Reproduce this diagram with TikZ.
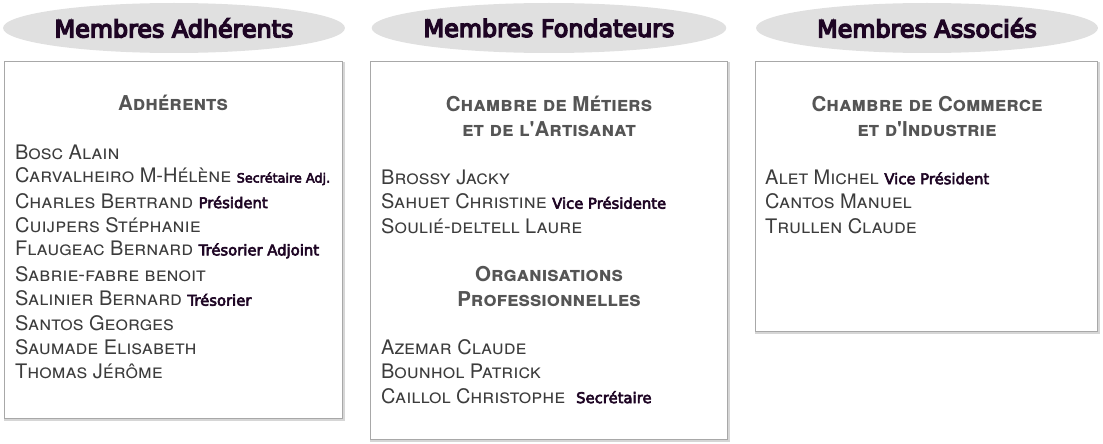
\documentclass[tikz,border=0pt]{standalone}
\usepackage{fontspec}
\newfontfamily\rolefont[BoldFont={DejaVu Sans}, BoldFeatures={FakeBold=4}]{DejaVu Sans}
\newfontfamily\titlefont[BoldFont={DejaVu Sans}, BoldFeatures={FakeBold=6}]{DejaVu Sans}
\newfontfamily\namefont{TeX Gyre Heros}
\usetikzlibrary{shapes.geometric}
\definecolor{ovalgray}{HTML}{E0E0E0}
\definecolor{titlepurple}{HTML}{1E0524}
\definecolor{namegray}{HTML}{3C3C3C}
\definecolor{headgray}{HTML}{555555}
\definecolor{framegray}{HTML}{A8A8A8}
\definecolor{shadegray}{HTML}{D6D6D6}
\newcommand{\role}[2][14.8]{{\rolefont\upshape\bfseries\fontsize{#1}{#1}\selectfont\color{titlepurple}#2}}

\begin{document}
\begin{tikzpicture}[x=1pt,y=-1pt,
  oval/.style={ellipse, fill=ovalgray, minimum width=342pt, minimum height=50pt,
    inner sep=0pt, font=\titlefont\bfseries\fontsize{23.8}{23.8}\selectfont, text=titlepurple},
  panel/.style={draw=framegray, line width=1pt, fill=white},
  heading/.style={font=\namefont\bfseries\scshape\fontsize{20.5}{20.5}\selectfont,
    text=headgray, inner sep=0pt},
  member/.style={anchor=west, font=\namefont\scshape\fontsize{20}{20}\selectfont,
    text=namegray, inner sep=0pt}]
\useasboundingbox (0,0) rectangle (1103,444);
\coordinate (A) at (174,28);
\coordinate (B) at (549,28);
\coordinate (C) at (927,28);
\node[oval] (ovalA) at (A) {Membres Adhérents};
\node[oval] (ovalB) at (B) {Membres Fondateurs};
\node[oval] (ovalC) at (C) {Membres Associés};
% panels
\draw[shadegray, line width=2pt] (5,63) rectangle (344,420);
\draw[panel] (4,62) rectangle (342,418);
\draw[shadegray, line width=2pt] (371,63) rectangle (729,441);
\draw[panel] (370,62) rectangle (727,439);
\draw[shadegray, line width=2pt] (756,63) rectangle (1099,333);
\draw[panel] (755,62) rectangle (1097,331);
%------------------
\node[heading] (headA) at (173,103) {Adhérents};
\newcommand{\listA}{Bosc Alain, {Carvalheiro M-Hélène \role[12.8]{Secrétaire Adj.}},
  {Charles Bertrand \role{Président}}, Cuijpers Stéphanie,
  {Flaugeac Bernard \role{Trésorier Adjoint}}, Sabrie-fabre benoit,
  {Salinier Bernard \role{Trésorier}}, Santos Georges, Saumade Elisabeth, Thomas Jérôme}
\foreach \name [count=\i] in \listA{
  \node[member] (a\i) at (15,{152+(\i-1)*24.4}) {\name};
}
%------------------
\node[heading] (headB1) at (549,104) {Chambre de Métiers};
\node[heading] (headB2) at (549,129) {et de l'Artisanat};
\newcommand{\listB}{Brossy Jacky, {Sahuet Christine \role{Vice Présidente}}, Soulié-deltell Laure}
\foreach \name [count=\i] in \listB{
  \node[member] (b\i) at (381,{177+(\i-1)*24.4}) {\name};
}
\node[heading] (headB3) at (549,274) {Organisations};
\node[heading] (headB4) at (549,299) {Professionnelles};
\newcommand{\listBB}{Azemar Claude, Bounhol Patrick, {Caillol Christophe\ \ \role{Secrétaire}}}
\foreach \name [count=\i] in \listBB{
  \node[member] (p\i) at (381,{347+(\i-1)*24.4}) {\name};
}
%------------------
\node[heading] (headC1) at (927,104) {Chambre de Commerce};
\node[heading] (headC2) at (927,129) {et d'Industrie};
\newcommand{\listC}{{Alet Michel \role{Vice Président}}, Cantos Manuel, Trullen Claude}
\foreach \name [count=\i] in \listC{
  \node[member] (c\i) at (765,{177+(\i-1)*24.4}) {\name};
}
\end{tikzpicture}
\end{document}
